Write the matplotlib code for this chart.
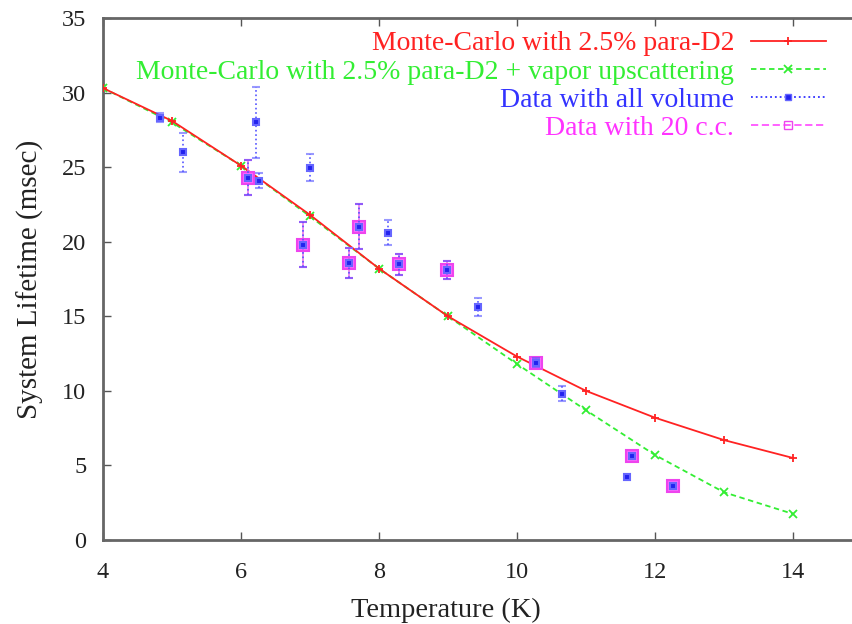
import numpy as np
import matplotlib
matplotlib.use('Agg')
import matplotlib.pyplot as plt
from matplotlib.lines import Line2D

plt.rcParams['font.family'] = ['Liberation Serif', 'DejaVu Serif']

# Monte-Carlo curves, one point per kelvin
temp_mc = [4, 5, 6, 7, 8, 9, 10, 11, 12, 13, 14]
life_mc = [30.3, 28.1, 25.1, 21.8, 18.2, 15.0, 12.3, 10.0, 8.2, 6.7, 5.5]
life_mc_vapor = [30.3, 28.0, 25.1, 21.7, 18.2, 15.0, 11.8, 8.7, 5.7, 3.2, 1.75]

# measurements, whole volume
temp_all = [4.83, 5.16, 6.1, 6.22, 6.26, 6.9, 7.0, 7.57, 7.71, 8.13, 8.29, 8.99,
            9.43, 10.28, 10.65, 11.6, 11.67, 12.26]
life_all = [28.3, 26.0, 24.3, 28.0, 24.1, 19.8, 24.95, 18.6, 21.0, 20.6, 18.5, 18.1,
            15.6, 11.9, 9.8, 4.2, 5.6, 3.6]
err_all = [0.3, 1.3, 1.2, 2.4, 0.5, 1.5, 0.9, 1.0, 1.5, 0.85, 0.7, 0.6,
           0.6, 0.3, 0.5, 0.2, 0.2, 0.2]

# measurements, 20 c.c.
temp_20 = [6.1, 6.9, 7.57, 7.71, 8.29, 8.99, 10.28, 11.67, 12.26]
life_20 = [24.3, 19.8, 18.6, 21.0, 18.5, 18.1, 11.9, 5.6, 3.6]
err_20 = [1.2, 1.5, 1.0, 1.5, 0.7, 0.6, 0.3, 0.2, 0.2]

fig = plt.figure(figsize=(8.53, 6.24), dpi=100)
ax = fig.add_axes([103/853, 84/624, 759/853, 522/624])

ax.plot(temp_mc, life_mc_vapor, color='#33ee33', ls=(0, (3, 2)), lw=1.3,
        marker='x', ms=6, mew=1.3, zorder=3)
ax.plot(temp_mc, life_mc, color='#ff2222', ls='-', lw=1.3,
        marker='+', ms=6, mew=1.3, zorder=4)

ax.errorbar(temp_20, life_20, yerr=err_20, fmt='s', ms=9, mfc='#ff66ff', mec='#ee44ee',
            mew=1.5, ecolor='#ee66ee', elinewidth=1.1, capsize=3, capthick=1.1,
            ls='none', zorder=5)
eb = ax.errorbar(temp_all, life_all, yerr=err_all, fmt='s', ms=5, mfc='#2222ee', mec='#6666ff',
                 mew=1.5, ecolor='#5555ff', elinewidth=1.2, capsize=3, capthick=1.2,
                 ls='none', zorder=6)
eb[2][0].set_linestyle(':')
for cap in eb[1]:
    cap.set_alpha(0.6)

ax.set_xlim(4, 15)
ax.set_ylim(0, 35)
ax.set_xticks([4, 6, 8, 10, 12, 14])
ax.set_yticks(np.arange(0, 36, 5))
ax.tick_params(direction='in', length=6, width=1, colors='#555555', labelcolor='#222222',
               labelsize=17.5, top=True, right=True, pad=12)
ax.tick_params(axis='x', pad=16)
for s in ax.spines.values():
    s.set_color('#666666')
    s.set_linewidth(2)

ax.set_xlabel('Temperature (K)', fontsize=20.5, color='#222222')
ax.set_ylabel('System Lifetime (msec)', fontsize=21, color='#222222')
ax.xaxis.set_label_coords(446/853, 1/624, transform=fig.transFigure)
ax.xaxis.label.set_va('bottom')
ax.yaxis.label.set_va('center')
ax.yaxis.set_label_coords(30/853, (624 - 279)/624, transform=fig.transFigure)

handles = [
    Line2D([], [], color='#ff2222', lw=1.3, marker='+', ms=6, mew=1.3),
    Line2D([], [], color='#33ee33', lw=1.3, ls=(0, (3, 2)), marker='x', ms=6, mew=1.3),
    Line2D([], [], color='#3333ff', lw=1.3, ls=':', marker='s', ms=5, mfc='#2222ee', mec='#6666ff'),
    Line2D([], [], color='#ff55ff', lw=1.3, ls=(0, (4, 2)), marker='s', ms=6, mfc='none', mec='#ee44ee'),
]
labels = ['Monte-Carlo with 2.5% para-D2',
          'Monte-Carlo with 2.5% para-D2 + vapor upscattering',
          'Data with all volume',
          'Data with 20 c.c.']
leg = ax.legend(handles, labels, loc='upper right', bbox_to_anchor=(826/853, 1 - 31/624),
                bbox_transform=fig.transFigure, frameon=False, markerfirst=False,
                fontsize=20, handlelength=2.7, handletextpad=0.6, labelspacing=0.1,
                borderpad=0, borderaxespad=0)
for txt, c in zip(leg.get_texts(), ['#ff2222', '#33ee33', '#3333ff', '#ff33ff']):
    txt.set_color(c)

fig.savefig('out.png', dpi=100)
